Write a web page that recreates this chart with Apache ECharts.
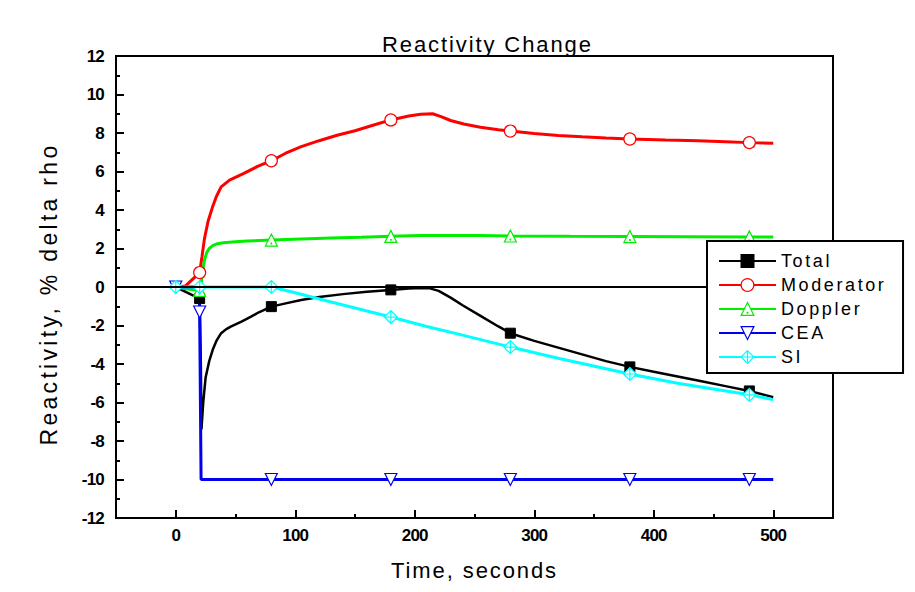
<!DOCTYPE html>
<html>
<head>
<meta charset="utf-8">
<script src="https://cdn.jsdelivr.net/npm/echarts@6/dist/echarts.min.js"></script>
<style>
html,body{margin:0;padding:0;background:#fff}
#c{width:915px;height:592px}
#c svg text[style*="22px"]{letter-spacing:1.9px}
#c svg text[style*="23px"]{letter-spacing:3.3px}
#c svg text[style*="18px"]{letter-spacing:2.6px}
#c svg text[style*="17px"]{letter-spacing:-0.8px}
</style>
</head>
<body>
<div id="c"></div>
<script>
// ---- data ----
const xTickLabels = [0, 100, 200, 300, 400, 500];
const xMinorTicks = [50, 150, 250, 350, 450];

const totalT = [0,10,20,21,21.5,23,25,28,31,34,38,42,46,55,63,70,80,92,105,120,140,160,180,195,205,212,220,230,240,255,270,280,300,320,340,360,380,400,420,440,460,480,500];
const totalV = [0,-0.3,-0.6,-4,-7.4,-6.0,-4.7,-3.85,-3.25,-2.8,-2.4,-2.2,-2.06,-1.8,-1.54,-1.3,-1.02,-0.85,-0.68,-0.52,-0.37,-0.25,-0.15,-0.08,-0.05,-0.06,-0.2,-0.55,-0.95,-1.5,-2.05,-2.4,-2.8,-3.15,-3.5,-3.85,-4.15,-4.4,-4.65,-4.9,-5.15,-5.4,-5.72];
const totalMarks = [20,80,180,280,380,480];

const modT = [0,8,20,22,24,27,31,34,38,45,57,68,80,92,105,120,135,150,165,180,195,205,215,222,230,241,255,270,280,300,320,340,360,380,410,437,460,480,500];
const modV = [0,0.05,0.75,1.6,2.5,3.4,4.2,4.7,5.2,5.55,5.9,6.25,6.56,6.95,7.29,7.6,7.88,8.12,8.4,8.68,8.88,8.97,9.0,8.85,8.65,8.47,8.3,8.17,8.1,7.97,7.87,7.8,7.74,7.69,7.64,7.6,7.55,7.5,7.47];
const modMarks = [20,80,180,280,380,480];

const dopT = [0,10,20,21,22,24,26,28,31,35,40,50,60,80,105,130,155,180,205,230,255,280,330,380,430,480,500];
const dopV = [0,-0.1,-0.18,0,0.6,1.4,1.8,2.0,2.15,2.25,2.3,2.35,2.39,2.44,2.49,2.54,2.58,2.63,2.67,2.68,2.67,2.65,2.63,2.62,2.61,2.6,2.6];
const dopMarks = [20,80,180,280,380,480];

const ceaT = [0,19.8,20,21.2,80,180,280,380,480,500];
const ceaV = [0,0,-1.3,-10,-10,-10,-10,-10,-10,-10];
const ceaMarks = [0,20,80,180,280,380,480];

const siT = [0,20,80,100,130,160,180,210,240,280,320,360,380,420,450,480,500];
const siV = [0,0,0,-0.3,-0.78,-1.25,-1.56,-2.05,-2.5,-3.12,-3.7,-4.25,-4.52,-5.0,-5.3,-5.6,-5.85];
const siMarks = [0,20,80,180,280,380,480];

// ---- build ----
function build(ts, vs, marks) {
  return ts.map((t, i) => marks.indexOf(t) >= 0 ? [t, vs[i]] : { value: [t, vs[i]], symbol: 'none' });
}
const FONT = 'Liberation Sans, Arial, sans-serif';

function mk(name, color, width, data, symbol, size, extra) {
  return Object.assign({
    name, type: 'line', data, symbol, symbolSize: size, showAllSymbol: true,
    lineStyle: { color, width }, itemStyle: { color: '#fff', borderColor: color, borderWidth: 1.2 },
    emphasis: { disabled: true }, z: 3
  }, extra || {});
}

const chart = echarts.init(document.getElementById('c'), null, { renderer: 'svg' });
chart.setOption({
  animation: false,
  backgroundColor: '#fff',
  title: { text: 'Reactivity Change', left: 377, top: 28,
    textStyle: { fontFamily: FONT, fontSize: 22, fontWeight: 'normal', color: '#000' } },
  grid: { left: 116, top: 56, right: 82, bottom: 74, show: true, borderColor: '#000', borderWidth: 2, backgroundColor: 'transparent' },
  legend: {
    orient: 'vertical', left: 707, top: 241, itemWidth: 57, itemHeight: 16, itemGap: 6,
    padding: [11, 40, 7, 11], borderColor: '#000', borderWidth: 2, backgroundColor: '#fff',
    itemStyle: { borderWidth: 1.2 },
    textStyle: { fontFamily: FONT, fontSize: 18, color: '#000' },
    data: ['Total', 'Moderator', 'Doppler', 'CEA', 'SI'], z: 10
  },
  xAxis: [{
    type: 'value', min: -50, max: 550, interval: 50,
    name: 'Time, seconds', nameLocation: 'middle', nameGap: 41,
    nameTextStyle: { fontFamily: FONT, fontSize: 22, color: '#000' },
    axisLine: { show: true, onZero: false, lineStyle: { color: '#000', width: 2 } },
    axisTick: { show: true, inside: true, length: 8, lineStyle: { color: '#000', width: 2 }, customValues: xTickLabels },
    axisLabel: { customValues: xTickLabels, fontFamily: FONT, fontSize: 17, fontWeight: 'bold', color: '#000', margin: 9 },
    splitLine: { show: false }
  }, {
    type: 'value', min: -50, max: 550, position: 'bottom', gridIndex: 0,
    axisLine: { show: false, onZero: false },
    axisTick: { show: true, inside: true, length: 4, lineStyle: { color: '#000', width: 2 }, customValues: xMinorTicks },
    axisLabel: { show: false }, splitLine: { show: false }
  }],
  yAxis: {
    type: 'value', min: -12, max: 12, interval: 2,
    name: 'Reactivity, % delta rho', nameLocation: 'middle', nameGap: 56, nameRotate: 90,
    nameTextStyle: { fontFamily: FONT, fontSize: 23, color: '#000', padding: [0, 14, 0, 0] },
    axisLine: { show: true, onZero: false, lineStyle: { color: '#000', width: 2 } },
    axisTick: { show: true, inside: true, length: 8, lineStyle: { color: '#000', width: 2 } },
    minorTick: { show: true, splitNumber: 2, length: 4, lineStyle: { color: '#000', width: 2 } },
    axisLabel: { fontFamily: FONT, fontSize: 17, fontWeight: 'bold', color: '#000', margin: 12 },
    splitLine: { show: false }, minorSplitLine: { show: false }
  },
  series: [
    mk('Total', '#000', 2.5, build(totalT, totalV, totalMarks), 'rect', 10,
      { itemStyle: { color: '#000', borderColor: '#000', borderWidth: 1 },
        markLine: { silent: true, symbol: 'none', label: { show: false },
          lineStyle: { color: '#000', width: 2, type: 'solid' }, data: [{ yAxis: 0 }] } }),
    mk('Moderator', '#ff0000', 3, build(modT, modV, modMarks), 'circle', 12),
    mk('Doppler', '#00ee00', 3, build(dopT, dopV, dopMarks), 'path://M0,-1 L1.1,0.9 L-1.1,0.9 Z M-0.05,0.45 L0.05,0.45 L0.05,0.55 L-0.05,0.55 Z', 12),
    mk('CEA', '#0000ee', 3, build(ceaT, ceaV, ceaMarks), 'path://M-1.1,-0.9 L1.1,-0.9 L0,1 Z', 12),
    mk('SI', '#00ffff', 3, build(siT, siV, siMarks), 'path://M0,-1 L1,0 L0,1 L-1,0 Z M0,-1 L0,1 M-1,0 L1,0', 13)
  ]
});
</script>
</body>
</html>
